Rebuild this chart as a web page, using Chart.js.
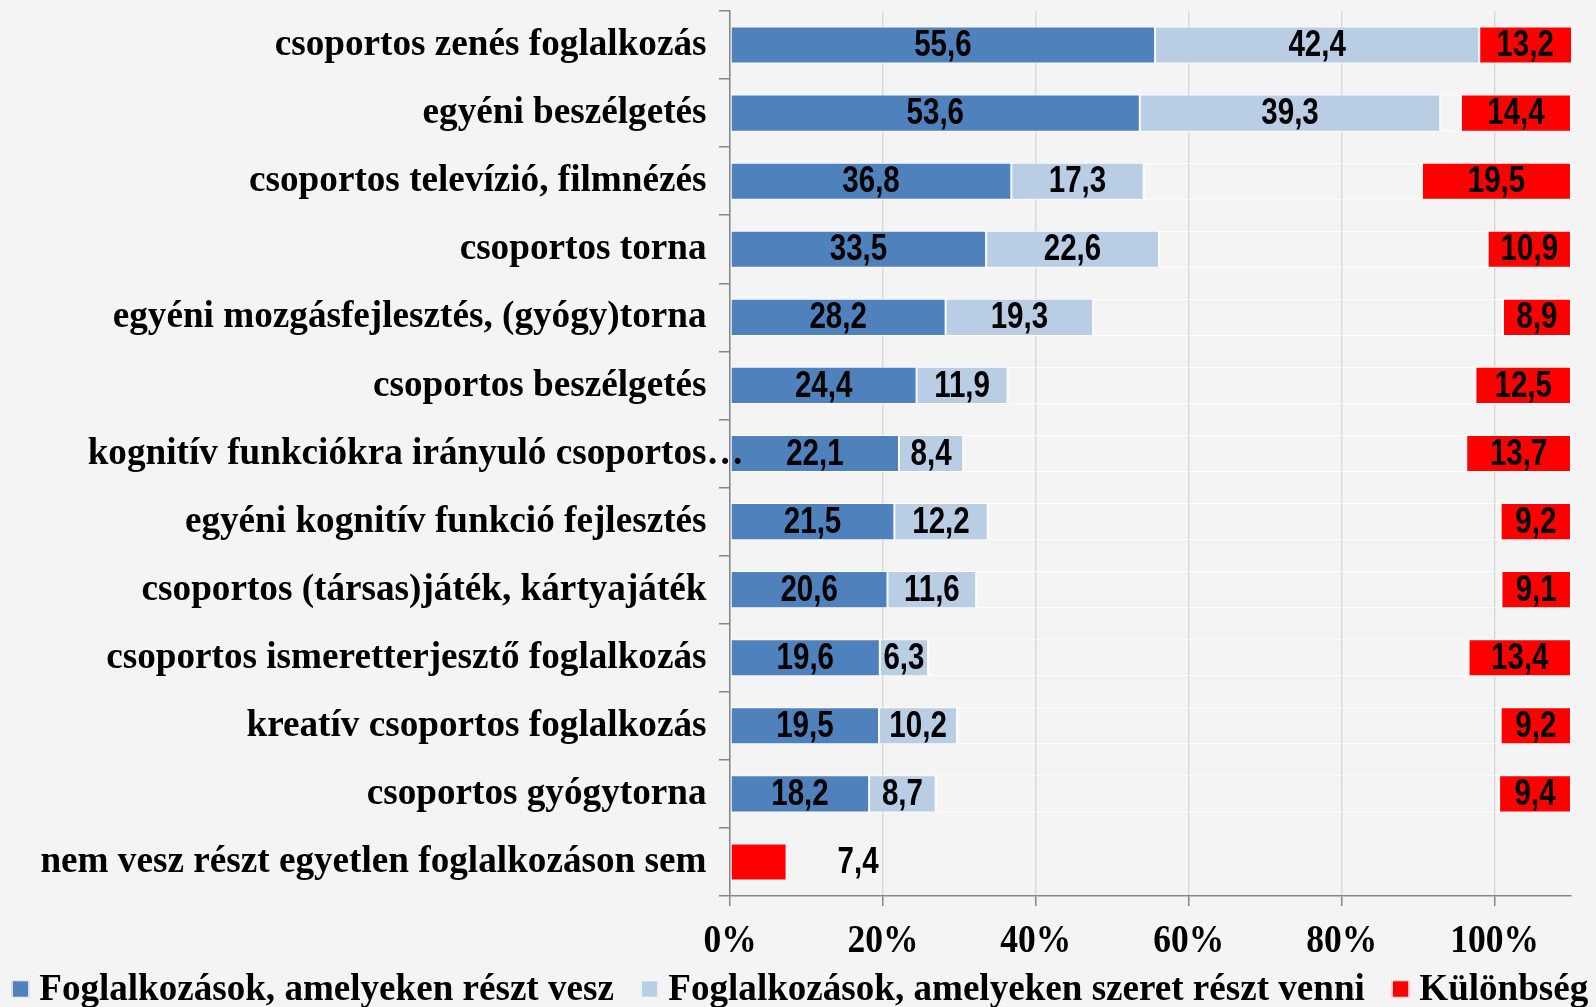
<!DOCTYPE html>
<html><head><meta charset="utf-8">
<script src="https://cdn.jsdelivr.net/npm/chart.js@4"></script>
<style>html,body{margin:0;padding:0;background:#f4f4f4;overflow:hidden}</style>
</head><body>
<canvas id="c" width="1596" height="1007"></canvas>
<script>
const categories = [
  'csoportos zenés foglalkozás',
  'egyéni beszélgetés',
  'csoportos televízió, filmnézés',
  'csoportos torna',
  'egyéni mozgásfejlesztés, (gyógy)torna',
  'csoportos beszélgetés',
  'kognitív funkciókra irányuló csoportos…',
  'egyéni kognitív funkció fejlesztés',
  'csoportos (társas)játék, kártyajáték',
  'csoportos ismeretterjesztő foglalkozás',
  'kreatív csoportos foglalkozás',
  'csoportos gyógytorna',
  'nem vesz részt egyetlen foglalkozáson sem'
];
const attends   = [55.6, 53.6, 36.8, 33.5, 28.2, 24.4, 22.1, 21.5, 20.6, 19.6, 19.5, 18.2, null];
const wouldLike = [42.4, 39.3, 17.3, 22.6, 19.3, 11.9, 8.4, 12.2, 11.6, 6.3, 10.2, 8.7, null];
const difference = [13.2, 14.4, 19.5, 10.9, 8.9, 12.5, 13.7, 9.2, 9.1, 13.4, 9.2, 9.4, 7.4];
const seriesNames = ['Foglalkozások, amelyeken részt vesz', 'Foglalkozások, amelyeken szeret részt venni', 'Különbség'];
const xTicks = [0, 20, 40, 60, 80, 100];
const xMax = 110;

// invisible spacer that pushes the "difference" bar to the right end of the axis
const spacer = categories.map((_, i) => attends[i] == null ? 0 :
  Math.max(0, xMax - attends[i] - wouldLike[i] - difference[i]));

const COLORS = ['#4f81bd', '#b9cde5', '#ff0000'];
const BG = '#f4f4f4';
const SERIF = '"Liberation Serif", "Times New Roman", serif';
const SANS = '"Liberation Sans", Arial, sans-serif';
const fmt = v => v.toFixed(1).replace('.', ',');

const bgPlugin = {
  id: 'bg',
  beforeDraw(chart) {
    const ctx = chart.ctx;
    ctx.save(); ctx.fillStyle = BG; ctx.fillRect(0, 0, chart.width, chart.height); ctx.restore();
  }
};

const labelsPlugin = {
  id: 'labels',
  afterDatasetsDraw(chart) {
    const ctx = chart.ctx, area = chart.chartArea;
    ctx.save();
    ctx.fillStyle = '#000';
    ctx.font = 'bold 36px ' + SANS;
    ctx.textBaseline = 'middle';
    chart.data.datasets.forEach((ds, d) => {
      if (ds.isSpacer) return;
      const meta = chart.getDatasetMeta(d);
      meta.data.forEach((bar, i) => {
        const v = ds.data[i];
        if (v == null) return;
        const x0 = Math.max(Math.min(bar.x, bar.base), area.left);
        const x1 = Math.min(Math.max(bar.x, bar.base), area.right);
        let cx = (x0 + x1) / 2, align = 'center';
        if (ds.isDiff && attends[i] == null) { cx = x1 + 51; align = 'left'; }
        ctx.save();
        ctx.translate(cx, bar.y + 1.2);
        ctx.scale(0.82, 1);
        ctx.textAlign = align;
        ctx.fillText(fmt(v), 0, 0);
        ctx.restore();
      });
    });
    ctx.restore();
  },
  afterDraw(chart) {
    const ctx = chart.ctx, ys = chart.scales.y, xs = chart.scales.x;
    ctx.save();
    ctx.fillStyle = '#000';
    // category labels
    ctx.font = 'bold 37.2px ' + SERIF;
    ctx.textBaseline = 'middle';
    const right = chart.chartArea.left - 23.5;
    categories.forEach((c, i) => {
      const y = ys.getPixelForValue(i) + 0.5;
      let txt = c, extra = '';
      if (c.endsWith('…')) { txt = c.slice(0, -1); extra = '…'; }
      ctx.textAlign = 'right';
      ctx.fillText(txt, right, y);
      if (extra) { ctx.textAlign = 'left'; ctx.fillText(extra, right, y); }
    });
    // x tick labels (slightly tall glyphs as in the reference)
    ctx.font = 'bold 35.5px ' + SERIF;
    ctx.textAlign = 'center';
    ctx.textBaseline = 'alphabetic';
    xs.ticks.forEach(t => {
      ctx.save();
      ctx.translate(xs.getPixelForValue(t.value), chart.chartArea.bottom + 56);
      ctx.scale(1, 1.1);
      ctx.fillText(t.value + '%', 0, 0);
      ctx.restore();
    });
    // legend
    ctx.font = 'bold 37.1px ' + SERIF;
    ctx.textBaseline = 'alphabetic';
    const items = chart.data.datasets.filter(ds => !ds.isSpacer);
    const box = 17.5, gap = 10, sep = 27;
    let total = 0;
    items.forEach((ds, k) => { total += box + gap + ctx.measureText(ds.label).width + (k < items.length - 1 ? sep : 0); });
    let x = (chart.width - total) / 2 + 2;
    const baseY = 1000, boxCy = 989;
    ctx.textAlign = 'left';
    items.forEach(ds => {
      ctx.fillStyle = ds.backgroundColor;
      ctx.fillRect(x, boxCy - box / 2, box, box);
      ctx.strokeStyle = '#fff'; ctx.lineWidth = 1;
      ctx.strokeRect(x + 0.5, boxCy - box / 2 + 0.5, box - 1, box - 1);
      x += box + gap;
      ctx.fillStyle = '#000';
      ctx.fillText(ds.label, x, baseY);
      x += ctx.measureText(ds.label).width + sep;
    });
    ctx.restore();
  }
};

const barCommon = { borderColor: '#ffffff', borderWidth: 1, borderSkipped: false, stack: 's' };

new Chart(document.getElementById('c'), {
  type: 'bar',
  data: {
    labels: categories,
    datasets: [
      Object.assign({ label: seriesNames[0], data: attends, backgroundColor: COLORS[0] }, barCommon),
      Object.assign({ label: seriesNames[1], data: wouldLike, backgroundColor: COLORS[1] }, barCommon),
      Object.assign({ label: '', data: spacer, backgroundColor: 'rgba(0,0,0,0)', isSpacer: true }, barCommon),
      Object.assign({ label: seriesNames[2], data: difference, backgroundColor: COLORS[2], isDiff: true }, barCommon)
    ]
  },
  options: {
    indexAxis: 'y',
    responsive: false,
    animation: false,
    devicePixelRatio: 1,
    layout: { padding: { top: 11, right: 25, left: 0, bottom: 0 } },
    datasets: { bar: { categoryPercentage: 1, barPercentage: 0.545 } },
    plugins: { legend: { display: false }, tooltip: { enabled: false } },
    scales: {
      x: {
        stacked: true, min: 0, max: xMax,
        afterBuildTicks: s => { s.ticks = xTicks.map(v => ({ value: v })); },
        afterFit: s => { s.height = 111; },
        grid: { color: '#d9d9d9', lineWidth: 1.5, tickColor: '#868686', tickLength: 10, drawTicks: true },
        border: { color: '#868686', width: 1.5 },
        ticks: { display: false, autoSkip: false, maxRotation: 0 }
      },
      y: {
        stacked: true,
        afterFit: s => { s.width = 730; },
        grid: { drawOnChartArea: false, color: '#868686', tickLength: 11, lineWidth: 1.5 },
        border: { color: '#868686', width: 1.5 },
        ticks: { display: false }
      }
    }
  },
  plugins: [bgPlugin, labelsPlugin]
});
</script>
</body></html>
